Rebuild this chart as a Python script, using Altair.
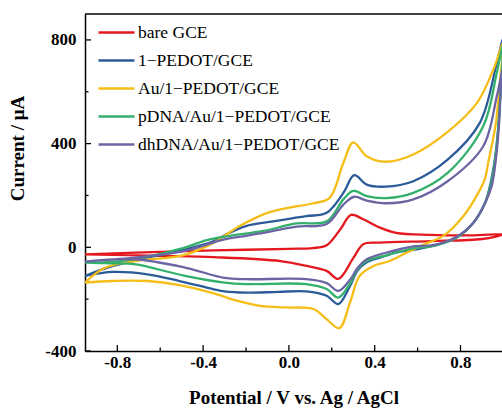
import altair as alt
import pandas as pd

series_names = ["bare GCE", "1\u2212PEDOT/GCE", "Au/1\u2212PEDOT/GCE",
                "pDNA/Au/1\u2212PEDOT/GCE", "dhDNA/Au/1\u2212PEDOT/GCE"]
series_colors = ["#e3191f", "#2b5c99", "#f5bd18", "#33b06b", "#6b66a3"]

# bare GCE (forward then reverse scan)
bare_v = [-0.95, -0.6, -0.35, 0.0, 0.11, 0.176, 0.24, 0.29, 0.347, 0.425, 0.5, 0.66, 0.85, 1.0,
          0.9, 0.66, 0.425, 0.347, 0.30, 0.23, 0.176, 0.083, -0.04, -0.35, -0.6, -0.95]
bare_i = [-27, -18, -12, -6, -3, 8, 70, 125, 108, 76, 56, 48, 46, 50,
          32, 24, 18, 12, -42, -122, -91, -72, -53, -38, -33, -27]

# 1-PEDOT/GCE
pedot_v = [-0.95, -0.82, -0.66, -0.51, -0.35, -0.28, -0.2, -0.1, 0.08, 0.176, 0.254, 0.305, 0.363,
           0.45, 0.58, 0.74, 0.89, 0.969, 1.0,
           0.99, 0.975, 0.96, 0.937, 0.914, 0.86, 0.78, 0.67, 0.58, 0.5, 0.425, 0.363, 0.32, 0.285,
           0.23, 0.176, 0.08, -0.05, -0.2, -0.3, -0.35, -0.51, -0.66, -0.82, -0.95]
pedot_i = [-110, -72, -40, -14, 24, 55, 82, 97, 120, 133, 210, 278, 242,
           234, 255, 338, 480, 710, 810,
           650, 450, 338, 235, 170, 95, 37, 5, -10, -20, -40, -58, -90, -149,
           -219, -187, -170, -172, -175, -170, -162, -130, -104, -95, -110]

# Au/1-PEDOT/GCE
au_v = [-0.95, -0.86, -0.72, -0.49, -0.35, -0.23, -0.1, 0.0, 0.11, 0.19, 0.254, 0.30, 0.363,
        0.45, 0.58, 0.74, 0.876, 0.953, 1.0,
        0.985, 0.965, 0.945, 0.93, 0.914, 0.883, 0.813, 0.72, 0.65, 0.55, 0.47, 0.394, 0.33, 0.285,
        0.235, 0.176, 0.114, -0.01, -0.135, -0.243, -0.35, -0.51, -0.66, -0.82, -0.95]
au_i = [-136, -80, -53, -30, 18, 82, 133, 153, 169, 191, 326, 405, 351,
        330, 358, 445, 556, 685, 790,
        650, 480, 390, 330, 265, 210, 120, 44, 18, -20, -53, -72, -110, -213,
        -312, -277, -238, -232, -226, -206, -178, -146, -130, -130, -136]

# pDNA/Au/1-PEDOT/GCE
pdna_v = [-0.95, -0.82, -0.72, -0.485, -0.383, -0.275, -0.12, 0.036, 0.176, 0.254, 0.30, 0.363,
          0.456, 0.58, 0.74, 0.906, 0.969, 1.0,
          0.99, 0.975, 0.96, 0.94, 0.914, 0.86, 0.78, 0.67, 0.58, 0.456, 0.363, 0.32, 0.285,
          0.23, 0.176, 0.08, -0.2, -0.3, -0.485, -0.72, -0.82, -0.95]
pdna_i = [-59, -56, -46, -1, 28, 44, 63, 92, 100, 185, 218, 197,
          190, 210, 287, 467, 672, 790,
          650, 450, 330, 235, 170, 95, 37, 5, -4, -31, -53, -85, -140,
          -194, -161, -142, -142, -136, -110, -65, -62, -59]

# dhDNA/Au/1-PEDOT/GCE
dhdna_v = [-0.95, -0.72, -0.485, -0.30, -0.2, -0.12, 0.036, 0.176, 0.254, 0.305, 0.363,
           0.456, 0.58, 0.74, 0.906, 0.969, 1.0,
           0.99, 0.98, 0.965, 0.945, 0.914, 0.86, 0.78, 0.67, 0.58, 0.456, 0.363, 0.32, 0.285,
           0.23, 0.176, 0.08, -0.2, -0.3, -0.485, -0.72, -0.95]
dhdna_i = [-55, -40, -14, 31, 44, 56, 80, 90, 165, 195, 180,
           170, 185, 255, 390, 582, 700,
           640, 480, 340, 235, 170, 95, 40, 8, 4, -20, -46, -80, -125,
           -168, -138, -123, -123, -118, -78, -46, -55]

x_major = [-0.8, -0.4, 0.0, 0.4, 0.8]
x_minor = [-0.6, -0.2, 0.2, 0.6]
y_major = [-400, 0, 400, 800]
y_minor = [-200, 200, 600]

rows = []
for name, vs, cs in zip(series_names,
                        [bare_v, pedot_v, au_v, pdna_v, dhdna_v],
                        [bare_i, pedot_i, au_i, pdna_i, dhdna_i]):
    for k, (v, c) in enumerate(zip(vs, cs)):
        rows.append({"series": name, "E": v, "I": c, "k": k})
df = pd.DataFrame(rows)

W, H = 417, 337
FONT = "Liberation Serif"
xs = alt.Scale(domain=[-0.9506, 0.9935], nice=False, zero=False)
ys = alt.Scale(domain=[-400, 900], nice=False, zero=False)

xaxis = alt.Axis(values=x_major, labelExpr="replace(format(datum.value, '.1f'), '\u2212', '-')",
                 ticks=False, tickSize=0, grid=False, title="Potential / V vs. Ag / AgCl",
                 labelFont=FONT, labelFontWeight="bold", labelFontSize=17, labelColor="black",
                 labelPadding=3, titleFont=FONT, titleFontWeight="bold", titleFontSize=19,
                 titleColor="black", titleY=46, titleBaseline="middle",
                 domainColor="black", domainWidth=1.5)
yaxis = alt.Axis(values=y_major, labelExpr="replace(format(datum.value, 'd'), '\u2212', '-')",
                 ticks=False, tickSize=0, grid=False, title="Current / \u03bcA",
                 labelFont=FONT, labelFontWeight="bold", labelFontSize=17, labelColor="black",
                 labelPadding=9, titleFont=FONT, titleFontWeight="bold", titleFontSize=19,
                 titleColor="black", titleX=-68, titleY=134, titleBaseline="middle",
                 titleAlign="center", domainColor="black", domainWidth=1.5)

lines = alt.Chart(df).mark_line(strokeWidth=2.3, interpolate="catmull-rom", clip=True).encode(
    x=alt.X("E:Q", scale=xs, axis=xaxis),
    y=alt.Y("I:Q", scale=ys, axis=yaxis),
    color=alt.Color("series:N", scale=alt.Scale(domain=series_names, range=series_colors),
                    legend=alt.Legend(title=None, orient="none", legendX=12, legendY=-1,
                                      symbolType="stroke", symbolSize=1296, symbolStrokeWidth=2.5,
                                      labelFont=FONT, labelFontSize=17.5, labelColor="black",
                                      labelLimit=0, labelOffset=2, rowPadding=-21.5, padding=0)),
    order="k:Q",
)

xt_major = alt.Chart(pd.DataFrame({"E": x_major})).mark_rule(color="black", strokeWidth=1.3).encode(
    x=alt.X("E:Q", scale=xs), y=alt.value(H), y2=alt.value(H - 6))
xt_minor = alt.Chart(pd.DataFrame({"E": x_minor})).mark_rule(color="black", strokeWidth=1.3).encode(
    x=alt.X("E:Q", scale=xs), y=alt.value(H), y2=alt.value(H - 3.5))
yt_major = alt.Chart(pd.DataFrame({"I": y_major})).mark_rule(color="black", strokeWidth=1.3).encode(
    y=alt.Y("I:Q", scale=ys), x=alt.value(0), x2=alt.value(6))
yt_minor = alt.Chart(pd.DataFrame({"I": y_minor})).mark_rule(color="black", strokeWidth=1.3).encode(
    y=alt.Y("I:Q", scale=ys), x=alt.value(0), x2=alt.value(3.5))
top_border = alt.Chart(pd.DataFrame({"E": [0]})).mark_rule(color="black", strokeWidth=1.5).encode(
    x=alt.value(0), x2=alt.value(W), y=alt.value(0))

chart = alt.layer(lines, xt_major, xt_minor, yt_major, yt_minor, top_border).properties(
    width=W, height=H,
    padding={"left": 85, "top": 14, "right": 0, "bottom": 59},
    autosize=alt.AutoSizeParams(type="none"),
).configure(font=FONT).configure_view(stroke=None)

chart.save("out.html", embed_options={"renderer": "svg", "actions": False})
